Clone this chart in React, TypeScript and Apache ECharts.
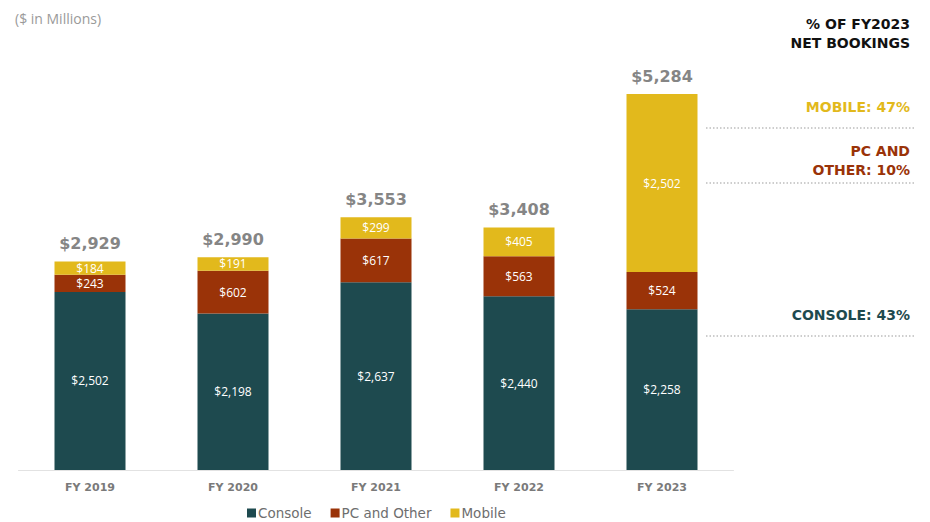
import React, { useEffect, useRef } from "react";
import * as echarts from "echarts";

const categories = ["FY 2019", "FY 2020", "FY 2021", "FY 2022", "FY 2023"];
const consoleValues = [2502, 2198, 2637, 2440, 2258];
const pcValues = [243, 602, 617, 563, 524];
const mobileValues = [184, 191, 299, 405, 2502];
const totalValues = [2929, 2990, 3553, 3408, 5284];

const COLORS = { console: "#1e4a4f", pc: "#9a3308", mobile: "#e2b91c" };
const FONT = "Open Sans";
const WIDE = "DejaVu Sans";

const fmt = (v: number) => "$" + v.toLocaleString("en-US");

export default function App() {
  const ref = useRef<HTMLDivElement>(null);
  useEffect(() => {
    if (!ref.current) return;
    const chart = echarts.init(ref.current, null, { renderer: "svg" });
    const inner = {
      show: true,
      position: "inside" as const,
      color: "#ffffff",
      fontSize: 12,
      fontFamily: FONT,
      formatter: (p: any) => fmt(p.value),
    };
    const dotted = (y: number) => ({
      type: "line",
      shape: { x1: 706, y1: y, x2: 916, y2: y },
      style: { stroke: "#bdbdbd", lineWidth: 1.5, lineDash: [1.5, 2] },
    });
    const rtext = (y: number, text: string, color: string) => ({
      type: "text",
      right: 20,
      top: y,
      style: {
        text,
        fill: color,
        font: `bold 14px "${WIDE}"`,
        textAlign: "right",
        lineHeight: 19,
      },
    });
    chart.setOption({
      animation: false,
      grid: { left: 18.5, right: 196.5, top: 94, bottom: 52 },
      xAxis: {
        type: "category",
        data: categories,
        axisLine: { lineStyle: { color: "#e2e2e2", width: 1 } },
        axisTick: { show: false },
        axisLabel: {
          color: "#7a7a7a",
          fontWeight: "bold",
          fontSize: 11,
          fontFamily: WIDE,
          margin: 12,
        },
      },
      yAxis: {
        type: "value",
        min: 0,
        max: Math.max(...totalValues),
        show: false,
        splitLine: { show: false },
      },
      legend: {
        data: ["Console", "PC and Other", "Mobile"],
        left: 247,
        top: 506,
        padding: 0,
        icon: "rect",
        itemWidth: 9,
        itemHeight: 9,
        itemGap: 19,
        textStyle: {
          color: "#6e6e6e",
          fontSize: 13.5,
          lineHeight: 14,
          fontFamily: WIDE,
          padding: [0, 0, 0, -3],
        },
      },
      series: [
        {
          name: "Console",
          type: "bar",
          stack: "s",
          data: consoleValues,
          barWidth: 71,
          itemStyle: { color: COLORS.console },
          label: inner,
        },
        {
          name: "PC and Other",
          type: "bar",
          stack: "s",
          data: pcValues,
          itemStyle: { color: COLORS.pc },
          label: inner,
        },
        {
          name: "Mobile",
          type: "bar",
          stack: "s",
          data: mobileValues,
          itemStyle: { color: COLORS.mobile },
          label: inner,
        },
        {
          name: "Total",
          type: "bar",
          data: totalValues,
          barWidth: 71,
          barGap: "-100%",
          z: 0,
          itemStyle: { color: "rgba(0,0,0,0)" },
          silent: true,
          label: {
            show: true,
            position: "top",
            distance: 10,
            color: "#858585",
            fontWeight: "bold",
            fontSize: 16,
            fontFamily: WIDE,
            formatter: (p: any) => fmt(p.value),
          },
        },
      ],
      graphic: [
        {
          type: "text",
          left: 15,
          top: 11,
          style: { text: "($ in Millions)", fill: "#9a9a9a", font: `14px "${FONT}"` },
        },
        rtext(14, "% OF FY2023\nNET BOOKINGS", "#111111"),
        rtext(97, "MOBILE: 47%", COLORS.mobile),
        dotted(128),
        rtext(141, "PC AND\nOTHER: 10%", COLORS.pc),
        dotted(183),
        rtext(305, "CONSOLE: 43%", COLORS.console),
        dotted(336),
      ],
    });
    return () => chart.dispose();
  }, []);
  return (
    <div
      ref={ref}
      style={{ position: "fixed", left: 0, top: 0, width: 930, height: 522, background: "#fff" }}
    />
  );
}
